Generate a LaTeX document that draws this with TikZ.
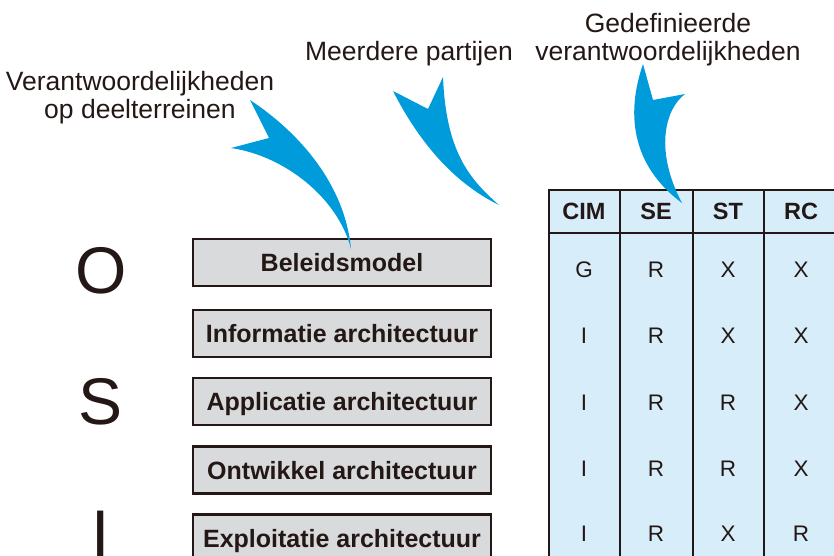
\documentclass[tikz,border=0pt]{standalone}
\usepackage{fontspec}
\setmainfont{Liberation Sans}
\definecolor{ink}{HTML}{231815}
\definecolor{callout}{HTML}{009BDB}
\definecolor{cellblue}{HTML}{D7EDFA}
\definecolor{boxgray}{HTML}{D9DADC}

\begin{document}
\begin{tikzpicture}[x=1pt,y=-1pt,
  layerbox/.style={draw=ink, line width=2.4pt, fill=boxgray,
    minimum width=297.6pt, minimum height=47pt, inner sep=0pt,
    font=\fontsize{25}{30}\selectfont\bfseries, text=ink,
    text height=18pt, text depth=0pt},
  hdr/.style={inner sep=0pt, font=\fontsize{23.5}{28}\selectfont\bfseries,
    text=ink, text height=17pt, text depth=0pt},
  cell/.style={inner sep=0pt, font=\fontsize{22.5}{26}\selectfont,
    text=ink, text height=16pt, text depth=0pt},
  bigletter/.style={inner sep=0pt, font=\fontsize{66}{70}\selectfont,
    text=ink, text height=47pt, text depth=0pt},
  caption/.style={inner sep=0pt, align=center, text=ink,
    font=\fontsize{26.5}{28}\selectfont},
  grid/.style={draw=ink, line width=2.4pt},
  pointer/.style={fill=callout, draw=none}
]
\useasboundingbox (0,0) rectangle (834,556);
\clip (0,0) rectangle (834,556);

% Level letters
\node[bigletter] (lvlO) at (101,270) {O};
\node[bigletter] (lvlS) at (101,401) {S};
\node[bigletter] (lvlI) at (101,533) {I};

% Architecture layers
\node[layerbox] (beleid)  at (342,262.5) {Beleidsmodel};
\node[layerbox] (info)    at (342,333.5) {Informatie architectuur};
\node[layerbox] (appl)    at (342,401.5) {Applicatie architectuur};
\node[layerbox] (ontw)    at (342,470)   {Ontwikkel architectuur};
\node[layerbox] (exploit) at (342,538)   {Exploitatie architectuur};

% Responsibility table
\fill[cellblue] (549,190) rectangle (850,600);
\draw[grid] (850,190) -- (549,190) -- (549,600);
\draw[grid] (549,233) -- (850,233);
\foreach \cx in {620,693,764} \draw[grid] (\cx,190) -- (\cx,600);

\node[hdr] (hCIM) at (584,211) {CIM};
\node[hdr] (hSE)  at (656,211) {SE};
\node[hdr] (hST)  at (728,211) {ST};
\node[hdr] (hRC)  at (801,211) {RC};

\foreach \y/\a/\b/\c/\d [count=\r] in
  {269/G/R/X/X, 335/I/R/X/X, 402/I/R/R/X, 468/I/R/R/X, 533/I/R/X/R} {
  \node[cell] (c\r a) at (584,\y) {\a};
  \node[cell] (c\r b) at (656,\y) {\b};
  \node[cell] (c\r c) at (728,\y) {\c};
  \node[cell] (c\r d) at (801,\y) {\d};
}

% Captions (base anchor sits on the last line)
\node[caption, anchor=base] (capdeel) at (140,119)
  {Verantwoordelijkheden\\op deelterreinen};
\node[caption, anchor=base] (capmeer) at (409,61) {Meerdere partijen};
\node[caption, anchor=base] (capgedef) at (668,61)
  {Gedefinieerde\\verantwoordelijkheden};

% Curved pointers
\coordinate (tip1) at (351,249);
\coordinate (tip2) at (499,205);
\coordinate (tip3) at (682,203);

\fill[pointer] (250,100) .. controls (300,133) and (345,185) .. (tip1)
  .. controls (338,198) and (285,156) .. (231,148)
  -- (269,138) -- cycle;
\fill[pointer] (443,77) .. controls (446,150) and (468,178) .. (tip2)
  .. controls (452,182) and (418,140) .. (393,91)
  -- (428,109) -- cycle;
\fill[pointer] (643,64) .. controls (622,125) and (640,172) .. (tip3)
  .. controls (655,152) and (664,110) .. (685,94)
  -- (653,100) -- cycle;
\end{tikzpicture}
\end{document}
